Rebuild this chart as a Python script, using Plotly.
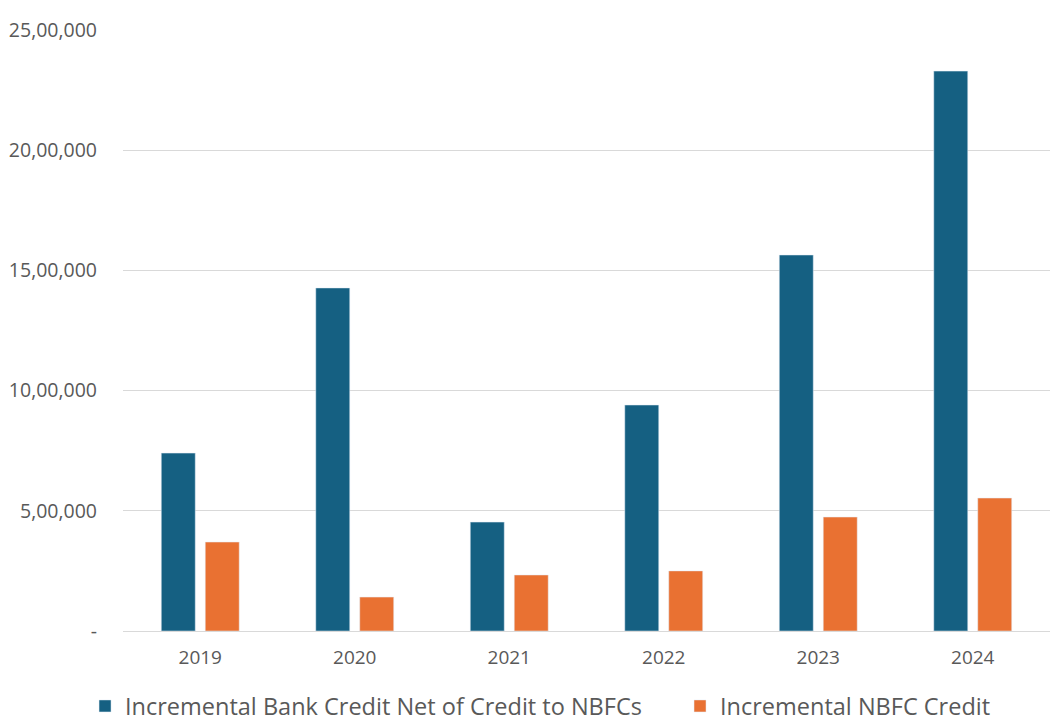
import plotly.graph_objects as go

years = ["2019", "2020", "2021", "2022", "2023", "2024"]
bank_credit = [740000, 1427000, 453000, 940000, 1564000, 2329000]
nbfc_credit = [370000, 141000, 233000, 250000, 474000, 553000]
tick_vals = [0, 500000, 1000000, 1500000, 2000000, 2500000]
tick_text = ["-", "5,00,000", "10,00,000", "15,00,000", "20,00,000", "25,00,000"]

fig = go.Figure()
fig.add_trace(go.Bar(x=years, y=bank_credit, name="Incremental Bank Credit Net of Credit to NBFCs",
                     marker=dict(color="#156082"), legend="legend"))
fig.add_trace(go.Bar(x=years, y=nbfc_credit, name="Incremental NBFC Credit",
                     marker=dict(color="#E97132"), legend="legend2"))

leg_common = dict(orientation="h", yref="container", xref="container", y=0.037, yanchor="middle",
                  xanchor="left", font=dict(size=23.5, color="#595959"), itemwidth=30,
                  bgcolor="rgba(0,0,0,0)")

fig.update_layout(
    width=1064, height=725,
    margin=dict(l=115, r=22, t=22, b=102),
    paper_bgcolor="white", plot_bgcolor="white",
    barmode="group", bargap=0.431, bargroupgap=0.227,
    font=dict(family="Open Sans, sans-serif", color="#595959"),
    showlegend=True,
    legend=dict(x=0.0724, **leg_common),
    legend2=dict(x=0.6316, **leg_common),
)
fig.update_yaxes(range=[0, 2500000], tickvals=tick_vals, ticktext=tick_text,
                 showgrid=True, gridcolor="#D9D9D9", gridwidth=1, zeroline=False,
                 showline=False, ticks="", tickfont=dict(size=19.5, color="#595959"),
                 ticklabelstandoff=25, automargin=False)
fig.update_xaxes(showline=True, linecolor="#D9D9D9", linewidth=1, ticks="",
                 tickfont=dict(size=19, color="#595959"), ticklabelstandoff=9,
                 automargin=False)

fig.write_html("out.html")
